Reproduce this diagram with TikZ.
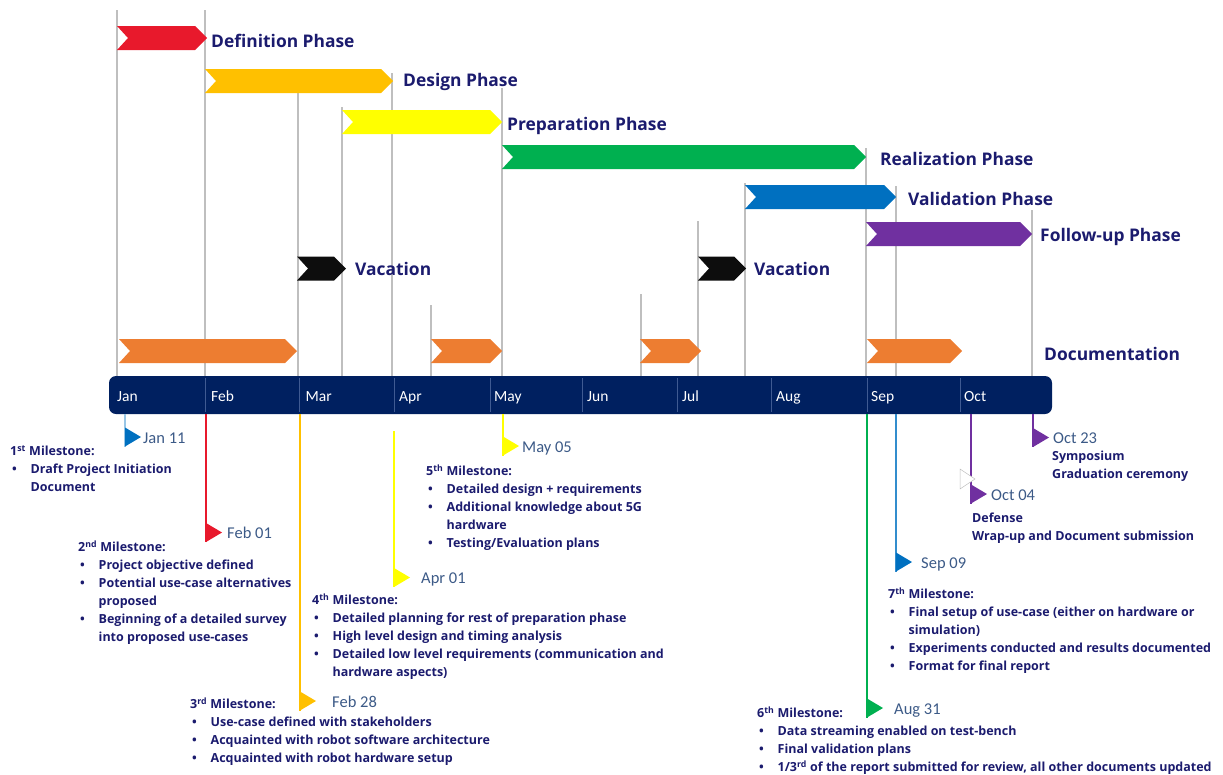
\documentclass[tikz,border=0pt]{standalone}
\usepackage{fontspec}
\setmainfont{Carlito}
\newfontfamily\headfont{Open Sans}
\usepackage{tikz}
\definecolor{navytext}{HTML}{1B1B6E}
\definecolor{barblue}{HTML}{002060}
\definecolor{sepblue}{HTML}{3F5A92}
\definecolor{datetext}{HTML}{3C5A87}
\definecolor{gridgray}{HTML}{BFBFBF}
\definecolor{defred}{HTML}{E8192C}
\definecolor{designorange}{HTML}{FFC000}
\definecolor{prepyellow}{HTML}{FFFF00}
\definecolor{realgreen}{HTML}{00B050}
\definecolor{valblue}{HTML}{0070C0}
\definecolor{followpurple}{HTML}{7030A0}
\definecolor{docorange}{HTML}{ED7D31}
\definecolor{vacblack}{HTML}{0D0D0D}
\tikzset{
    grid-line/.style = {draw=gridgray, line width=1.5pt},
    phase-label/.style = {anchor=base west, inner sep=0pt, text=navytext, font=\headfont\bfseries\fontsize{17.4}{21}\selectfont},
    timeline-bar/.style = {fill=barblue, rounded corners=7pt, minimum width=943pt, minimum height=38pt, inner sep=0pt},
    month-sep/.style = {draw=sepblue, line width=0.6pt},
    month-label/.style = {anchor=base west, inner sep=0pt, text=white, font=\fontsize{15.5}{18}\selectfont},
    flag-line/.style = {line width=1.5pt},
    date-label/.style = {anchor=base west, inner sep=0pt, text=datetext, font=\fontsize{16.5}{19}\selectfont},
    milestone-text/.style = {anchor=base west, inner sep=0pt, text=navytext, font=\headfont\bfseries\fontsize{12.5}{18}\selectfont},
}

\begin{document}
\begin{tikzpicture}[x=1pt,y=-1pt]
\useasboundingbox (0,0) rectangle (1223,774);

% gray guide lines
\foreach \x/\ytop in {117/10, 205/10, 298/93, 342/107, 392/73, 431/305, 502/88,
    641/294, 698/221, 745/183, 866/148, 896/186, 1032/210}
    \draw[grid-line] (\x,\ytop) -- (\x,376);

% phase chevrons
\foreach \xa/\xb/\y/\col in {117/207/38/defred, 205/393/81/designorange, 342/502/122/prepyellow,
    502/866/157/realgreen, 745/896/197/valblue, 866/1032/234/followpurple,
    297/346/268.5/vacblack, 698/746/268.5/vacblack,
    119/297/351/docorange, 431/502/351/docorange, 640/701/351/docorange, 867/962/351/docorange}
    \fill[\col] (\xa,\y-12) -- (\xb-12,\y-12) -- (\xb,\y) -- (\xb-12,\y+12) -- (\xa,\y+12) -- (\xa+11,\y) -- cycle;

\node[phase-label] (definition) at (211,47) {Definition Phase};
\node[phase-label] (design) at (403,86.5) {Design Phase};
\node[phase-label] (preparation) at (507,130) {Preparation Phase};
\node[phase-label] (realization) at (880,165) {Realization Phase};
\node[phase-label] (validation) at (908,205) {Validation Phase};
\node[phase-label] (followup) at (1040,241) {Follow-up Phase};
\node[phase-label] (vacation-1) at (355,275) {Vacation};
\node[phase-label] (vacation-2) at (754,275) {Vacation};
\node[phase-label] (documentation) at (1044,360) {Documentation};

% timeline
\node[timeline-bar] (bar) at (580.5,395) {};
\foreach \x in {205.7, 299, 394, 490, 582, 677, 771, 867, 960}
    \draw[month-sep] (\x,378) -- (\x,412);
\foreach \m/\x in {Jan/117, Feb/211, Mar/305.5, Apr/399, May/494, Jun/587, Jul/682, Aug/776, Sep/871, Oct/964}
    \node[month-label] (month-\m) at (\x,401) {\m};

% milestone flags
\foreach \n/\x/\ytop/\yc/\lcol/\fcol/\xl/\date in {
    jan11/125/414/437/valblue!40/valblue/143/Jan 11,
    feb01/206/414/532.5/defred/defred/227/Feb 01,
    feb28/300/414/701/designorange/designorange/332/Feb 28,
    apr01/394/431/577.5/prepyellow/prepyellow/421/Apr 01,
    may05/503/414/446/prepyellow/prepyellow/522/May 05,
    aug31/867/414/708/realgreen/realgreen/894/Aug 31,
    sep09/896/414/562/valblue!80/valblue/921/Sep 09,
    oct04/971/414/494/followpurple/followpurple/991/Oct 04,
    oct23/1033/414/437.5/followpurple/followpurple/1053/Oct 23}
{
    \coordinate (\n-top) at (\x,\ytop);
    \coordinate (\n-foot) at (\x,\yc+9.5);
    \draw[flag-line, \lcol] (\n-top) -- (\n-foot);
    \fill[\fcol] (\x,\yc-9.5) -- (\x+16,\yc) -- (\n-foot) -- cycle;
    \node[date-label] (\n-date) at (\xl,\yc+6) {\date};
}
\draw[gridgray, line width=0.5pt, fill=white] (960,469) -- (975,479) -- (960,489) -- cycle;

% milestone texts
\node[milestone-text] (ms-1) at (10,455.5) {\begin{tabular}[t]{@{\hspace{2pt}}p{18.5pt}@{}l@{}}
    \multicolumn{2}{@{}l@{}}{1\textsuperscript{st} Milestone:}\\
    \textbullet & Draft Project Initiation\\
    & Document
\end{tabular}};
\node[milestone-text] (ms-2) at (78,551.5) {\begin{tabular}[t]{@{\hspace{2pt}}p{18.5pt}@{}l@{}}
    \multicolumn{2}{@{}l@{}}{2\textsuperscript{nd} Milestone:}\\
    \textbullet & Project objective defined\\
    \textbullet & Potential use-case alternatives\\
    & proposed\\
    \textbullet & Beginning of a detailed survey\\
    & into proposed use-cases
\end{tabular}};
\node[milestone-text] (ms-3) at (190,708.5) {\begin{tabular}[t]{@{\hspace{2pt}}p{18.5pt}@{}l@{}}
    \multicolumn{2}{@{}l@{}}{3\textsuperscript{rd} Milestone:}\\
    \textbullet & Use-case defined with stakeholders\\
    \textbullet & Acquainted with robot software architecture\\
    \textbullet & Acquainted with robot hardware setup
\end{tabular}};
\node[milestone-text] (ms-4) at (312,604.5) {\begin{tabular}[t]{@{\hspace{2pt}}p{18.5pt}@{}l@{}}
    \multicolumn{2}{@{}l@{}}{4\textsuperscript{th} Milestone:}\\
    \textbullet & Detailed planning for rest of preparation phase\\
    \textbullet & High level design and timing analysis\\
    \textbullet & Detailed low level requirements (communication and\\
    & hardware aspects)
\end{tabular}};
\node[milestone-text] (ms-5) at (426,475.5) {\begin{tabular}[t]{@{\hspace{2pt}}p{18.5pt}@{}l@{}}
    \multicolumn{2}{@{}l@{}}{5\textsuperscript{th} Milestone:}\\
    \textbullet & Detailed design + requirements\\
    \textbullet & Additional knowledge about 5G\\
    & hardware\\
    \textbullet & Testing/Evaluation plans
\end{tabular}};
\node[milestone-text] (ms-6) at (757,717.5) {\begin{tabular}[t]{@{\hspace{2pt}}p{18.5pt}@{}l@{}}
    \multicolumn{2}{@{}l@{}}{6\textsuperscript{th} Milestone:}\\
    \textbullet & Data streaming enabled on test-bench\\
    \textbullet & Final validation plans\\
    \textbullet & 1/3\textsuperscript{rd} of the report submitted for review, all other documents updated
\end{tabular}};
\node[milestone-text] (ms-7) at (888,598.5) {\begin{tabular}[t]{@{\hspace{2pt}}p{18.5pt}@{}l@{}}
    \multicolumn{2}{@{}l@{}}{7\textsuperscript{th} Milestone:}\\
    \textbullet & Final setup of use-case (either on hardware or\\
    & simulation)\\
    \textbullet & Experiments conducted and results documented\\
    \textbullet & Format for final report
\end{tabular}};
\node[milestone-text] (defense) at (972,522.5) {\begin{tabular}[t]{@{}l@{}}
    Defense\\
    Wrap-up and Document submission
\end{tabular}};
\node[milestone-text] (symposium) at (1052,460.5) {\begin{tabular}[t]{@{}l@{}}
    Symposium\\
    Graduation ceremony
\end{tabular}};
\end{tikzpicture}
\end{document}
